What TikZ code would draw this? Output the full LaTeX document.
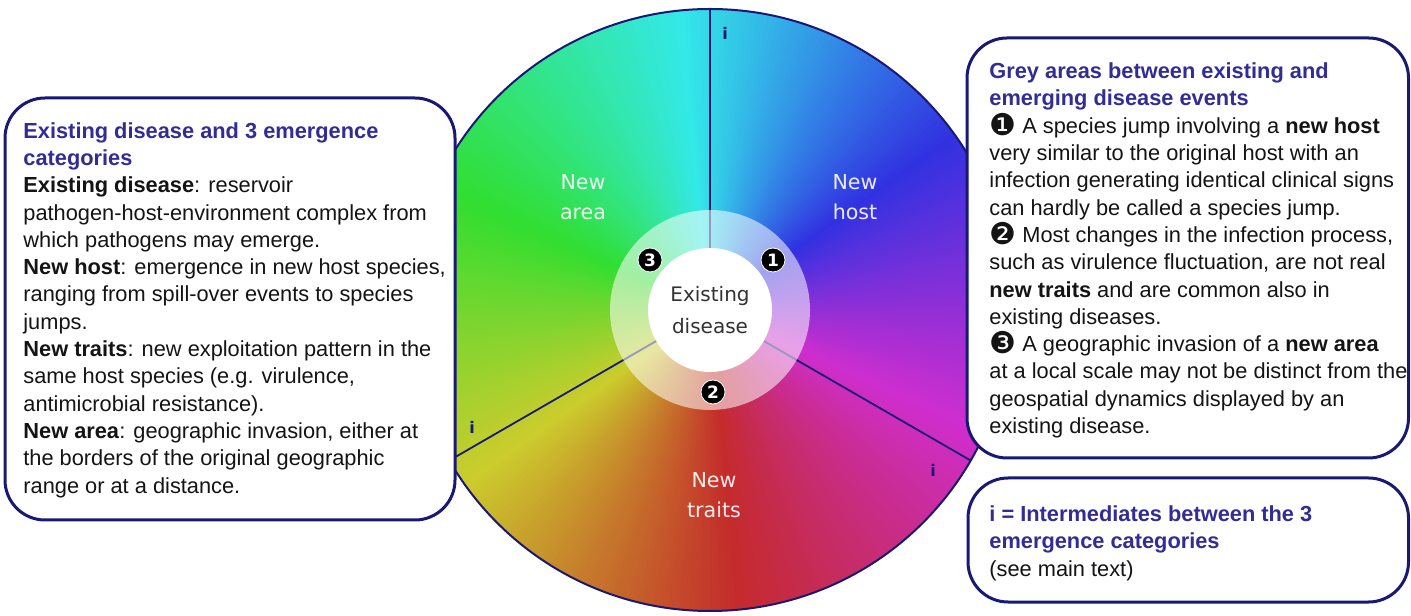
\documentclass[tikz,border=0pt]{standalone}
\usepackage{fontspec}
\setmainfont{Liberation Sans}
\newfontfamily\wheelfont{DejaVu Sans}
\newfontfamily\dingfont{DejaVu Sans}
\definecolor{navy}{RGB}{25,25,115}
\definecolor{headblue}{RGB}{50,45,150}
\definecolor{bodytext}{RGB}{20,20,20}
\definecolor{hubtext}{RGB}{50,50,50}
\newcommand{\hd}[1]{\textcolor{headblue}{\textbf{#1}}}
\newcommand{\dg}[1]{\smash{\raisebox{-1pt}{\dingfont\fontsize{15}{15}\selectfont #1}}}
\tikzset{
  infobox/.style={draw=navy, line width=1.5pt, rounded corners=20pt, fill=white},
  infotext/.style={anchor=north west, inner sep=0pt, align=left, text=bodytext,
    font=\fontsize{10.9}{13.65}\selectfont},
  sectorlabel/.style={align=center, text=white, text opacity=0.9,
    font=\wheelfont\fontsize{10.3}{15}\selectfont},
  badge/.style={circle, fill=black, draw=white, line width=0.4pt, inner sep=0pt,
    minimum size=12pt, text=white, font=\wheelfont\bfseries\fontsize{8.5}{8.5}\selectfont},
  imark/.style={text=navy, font=\wheelfont\bfseries\fontsize{8}{8}\selectfont},
  divider/.style={draw=navy, line width=0.9pt}
}
\begin{document}
\begin{tikzpicture}[x=0.5pt, y=0.5pt]
\useasboundingbox (0,0) rectangle (1411,615);
\coordinate (c) at (710,305);

\foreach \a in {0,...,359}{
  \pgfmathsetmacro{\h}{mod(635-\a,360)}
  \pgfmathsetmacro{\b}{0.84+0.07*sin(\a)}
  \definecolor{wc}{Hsb}{\h,0.78,\b}
  \fill[wc] (c) -- ++(\a:150.5pt) arc[start angle=\a, end angle=\a+1.6, radius=150.5pt] -- cycle;
}
\draw[navy, line width=1pt] (c) circle[radius=150.5pt];
\draw[divider] (c) -- ++(90:150.5pt);
\draw[divider] (c) -- ++(210:150.5pt);
\draw[divider] (c) -- ++(330:150.5pt);

\fill[white, opacity=0.55] (c) circle[radius=50pt];
\node[circle, fill=white, minimum size=62pt, inner sep=0pt, align=center, text=hubtext,
  font=\wheelfont\fontsize{10}{16}\selectfont] (hub) at (c) {Existing\\disease};

\node[badge] (b1) at (773,355) {1};
\node[badge] (b2) at (713,223) {2};
\node[badge] (b3) at (650,355) {3};

\node[sectorlabel] (area) at (583,418) {New\\area};
\node[sectorlabel] (host) at (855,418) {New\\host};
\node[sectorlabel] (traits) at (714,120) {New\\traits};

\node[imark] (i1) at (725,582) {i};
\node[imark] (i2) at (472,188) {i};
\node[imark] (i3) at (933,145) {i};

\draw[infobox] (5,95) rectangle (455,517);
\draw[infobox] (967,157) rectangle (1408.5,577);
\draw[infobox] (968,13) rectangle (1408.5,137);

\node[infotext] (lefttext) at (23,493) {\hd{Existing disease and 3 emergence}\\
\hd{categories}\\
\textbf{Existing disease}: reservoir\\
pathogen-host-environment complex from\\
which pathogens may emerge.\\
\textbf{New host}: emergence in new host species,\\
ranging from spill-over events to species\\
jumps.\\
\textbf{New traits}: new exploitation pattern in the\\
same host species (e.g. virulence,\\
antimicrobial resistance).\\
\textbf{New area}: geographic invasion, either at\\
the borders of the original geographic\\
range or at a distance.};

\node[infotext] (greytext) at (989,552.5) {\hd{Grey areas between existing and}\\
\hd{emerging disease events}\\
\dg{❶} A species jump involving a \textbf{new host}\\
very similar to the original host with an\\
infection generating identical clinical signs\\
can hardly be called a species jump.\\
\dg{❷} Most changes in the infection process,\\
such as virulence fluctuation, are not real\\
\textbf{new traits} and are common also in\\
existing diseases.\\
\dg{❸} A geographic invasion of a \textbf{new area}\\
at a local scale may not be distinct from the\\
geospatial dynamics displayed by an\\
existing disease.};

\node[infotext] (keytext) at (989,109.5) {\hd{i = Intermediates between the 3}\\
\hd{emergence categories}\\
(see main text)};
\end{tikzpicture}
\end{document}
